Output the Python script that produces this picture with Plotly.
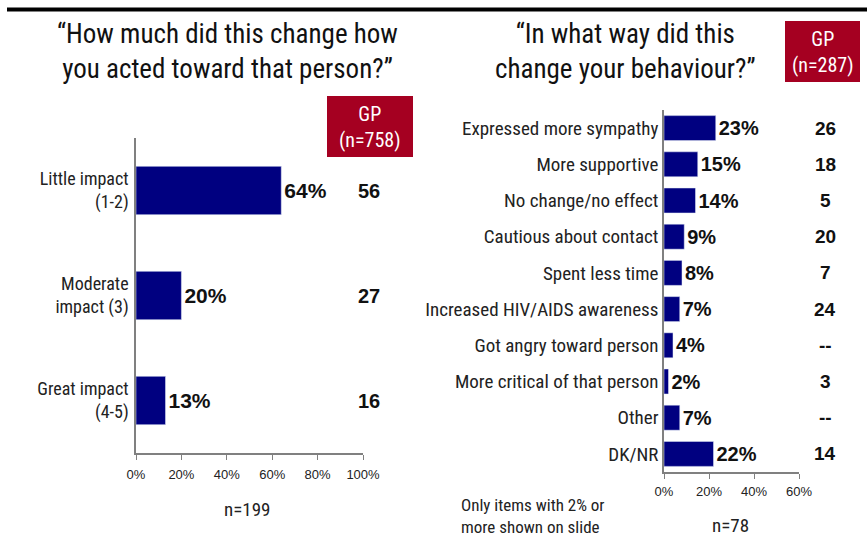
import plotly.graph_objects as go

W, H = 867, 536

# Left panel data
left_cats = ["Little impact<br>(1-2)", "Moderate<br>impact (3)", "Great impact<br>(4-5)"]
left_vals = [64, 20, 13]
left_gp = ["56", "27", "16"]
left_ticks = [0, 20, 40, 60, 80, 100]

# Right panel data
right_cats = ["Expressed more sympathy", "More supportive", "No change/no effect",
              "Cautious about contact", "Spent less time", "Increased HIV/AIDS awareness",
              "Got angry toward person", "More critical of that person", "Other", "DK/NR"]
right_vals = [23, 15, 14, 9, 8, 7, 4, 2, 7, 22]
right_gp = ["26", "18", "5", "20", "7", "24", "--", "3", "--", "14"]
right_ticks = [0, 20, 40, 60]

NAVY = "#000080"
RED = "#A50021"
NARROW = "Roboto Condensed, Arial Narrow, sans-serif"
ARIAL = "Liberation Sans, Arial, sans-serif"

def px(x):
    return x / W

def py(y):
    return 1 - y / H

fig = go.Figure()
fig.add_trace(go.Bar(
    x=left_vals, y=left_cats, orientation="h", marker_color=NAVY, width=0.46,
    text=[f"{v}%" for v in left_vals], textposition="outside",
    textfont=dict(family=ARIAL, size=21, color="#111", weight="bold"), cliponaxis=False,
    xaxis="x", yaxis="y", hoverinfo="skip"))
fig.add_trace(go.Bar(
    x=right_vals, y=right_cats, orientation="h", marker_color=NAVY, width=0.69,
    text=[f"{v}%" for v in right_vals], textposition="outside",
    textfont=dict(family=ARIAL, size=20, color="#111", weight="bold"), cliponaxis=False,
    xaxis="x2", yaxis="y2", hoverinfo="skip"))

axis_common = dict(showgrid=False, zeroline=False, showline=True, linecolor="#808080",
                   linewidth=1.5, automargin=False)
fig.update_layout(
    width=W, height=H, margin=dict(l=0, r=0, t=0, b=0, autoexpand=False),
    paper_bgcolor="white", plot_bgcolor="white", showlegend=False,
    xaxis=dict(domain=[px(136), px(363)], range=[0, 100], tickvals=left_ticks,
               ticktext=[f"{t}%" for t in left_ticks], ticks="outside", ticklen=5,
               tickcolor="#808080", tickfont=dict(family=ARIAL, size=13, color="#222"),
               ticklabelstandoff=4, anchor="y", **axis_common),
    yaxis=dict(domain=[py(453), py(138)], autorange="reversed", ticks="",
               tickfont=dict(family=NARROW, size=18, color="#222"), ticklabelstandoff=2,
               anchor="x", **axis_common),
    xaxis2=dict(domain=[px(664), px(799)], range=[0, 60], tickvals=right_ticks,
                ticktext=[f"{t}%" for t in right_ticks], ticks="outside", ticklen=5,
                tickcolor="#808080", tickfont=dict(family=ARIAL, size=13, color="#222"),
                ticklabelstandoff=2, anchor="y2", **axis_common),
    yaxis2=dict(domain=[py(472), py(110)], autorange="reversed", ticks="",
                tickfont=dict(family=NARROW, size=19, color="#222"), ticklabelstandoff=0,
                anchor="x2", **axis_common),
)

shapes = [
    dict(type="line", xref="paper", yref="paper", x0=px(7), x1=1, y0=py(9.5), y1=py(9.5),
         line=dict(color="black", width=4)),
    dict(type="rect", xref="paper", yref="paper", x0=px(327), x1=px(413), y0=py(157), y1=py(96),
         fillcolor=RED, line=dict(width=0)),
    dict(type="rect", xref="paper", yref="paper", x0=px(785), x1=px(860), y0=py(82), y1=py(21),
         fillcolor=RED, line=dict(width=0)),
]
fig.update_layout(shapes=shapes)

ann = []
def txt(x, y, s, size, family=NARROW, color="#111", xanchor="center", align="center"):
    ann.append(dict(x=px(x), y=py(y), xref="paper", yref="paper", text=s,
                    showarrow=False, xanchor=xanchor, yanchor="middle", align=align,
                    font=dict(family=family, size=size, color=color)))

txt(228, 51, "“How much did this change how<br>you acted toward that person?”", 27)
txt(625, 51, "“In what way did this<br>change your behaviour?”", 27)
txt(370, 127, "GP<br>(n=758)", 20, color="white")
txt(822.5, 52, "GP<br>(n=287)", 20, color="white")
txt(247, 509, "n=199", 19, color="#222")
txt(730, 525, "n=78", 19, color="#222")
txt(459, 516, "Only items with 2% or<br>more shown on slide", 17, color="#222", xanchor="left", align="left")

for c, g in zip(left_cats, left_gp):
    ann.append(dict(x=px(369), y=c, xref="paper", yref="y", text=f"<b>{g}</b>", showarrow=False,
                    xanchor="center", yanchor="middle",
                    font=dict(family=ARIAL, size=20, color="#111")))
for c, g in zip(right_cats, right_gp):
    ann.append(dict(x=px(825), y=c, xref="paper", yref="y2", text=f"<b>{g}</b>", showarrow=False,
                    xanchor="center", yanchor="middle",
                    font=dict(family=ARIAL, size=19, color="#111")))
fig.update_layout(annotations=ann)

fig.write_html("out.html", config={"displayModeBar": False},
               post_script="document.body.style.margin='0';document.body.style.overflow='hidden';")
